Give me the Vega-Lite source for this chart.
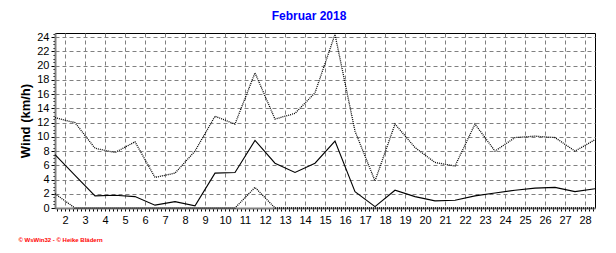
{
  "$schema": "https://vega.github.io/schema/vega-lite/v6.json",
  "autosize": "none",
  "width": 540,
  "height": 175,
  "padding": {"left": 55, "top": 33, "right": 21, "bottom": 45},
  "background": "white",
  "title": {
    "text": "Februar 2018",
    "color": "#0000ff",
    "font": "Liberation Sans",
    "fontSize": 12,
    "fontWeight": "bold",
    "anchor": "middle",
    "dx": -16,
    "offset": 5
  },
  "config": {
    "view": {"stroke": "black", "strokeWidth": 1},
    "axis": {
      "labelFont": "Liberation Sans",
      "labelFontSize": 11,
      "labelColor": "black",
      "titleFont": "Liberation Sans",
      "titleColor": "black",
      "domainColor": "#808080",
      "domainWidth": 2,
      "tickColor": "black",
      "gridColor": "#808080",
      "gridDash": [4, 3],
      "gridWidth": 1
    }
  },
  "data": {
    "values": [
      {"day": 1.5, "max": 12.7, "mean": 7.5, "min": 2.0},
      {"day": 2.5, "max": 12.0, "mean": 4.6, "min": 0},
      {"day": 3.5, "max": 8.4, "mean": 1.7, "min": 0},
      {"day": 4.5, "max": 7.8, "mean": 1.8, "min": 0},
      {"day": 5.5, "max": 9.3, "mean": 1.6, "min": 0},
      {"day": 6.5, "max": 4.3, "mean": 0.4, "min": 0},
      {"day": 7.5, "max": 4.9, "mean": 0.9, "min": 0},
      {"day": 8.5, "max": 8.0, "mean": 0.3, "min": 0},
      {"day": 9.5, "max": 12.9, "mean": 4.9, "min": 0},
      {"day": 10.5, "max": 11.8, "mean": 5.0, "min": 0},
      {"day": 11.5, "max": 19.0, "mean": 9.5, "min": 2.9},
      {"day": 12.5, "max": 12.5, "mean": 6.3, "min": 0},
      {"day": 13.5, "max": 13.3, "mean": 5.0, "min": 0},
      {"day": 14.5, "max": 16.2, "mean": 6.3, "min": 0},
      {"day": 15.5, "max": 24.4, "mean": 9.4, "min": 0},
      {"day": 16.5, "max": 10.8, "mean": 2.3, "min": 0},
      {"day": 17.5, "max": 3.8, "mean": 0.2, "min": 0},
      {"day": 18.5, "max": 11.8, "mean": 2.5, "min": 0},
      {"day": 19.5, "max": 8.5, "mean": 1.6, "min": 0},
      {"day": 20.5, "max": 6.4, "mean": 1.0, "min": 0},
      {"day": 21.5, "max": 5.9, "mean": 1.1, "min": 0},
      {"day": 22.5, "max": 11.8, "mean": 1.7, "min": 0},
      {"day": 23.5, "max": 8.0, "mean": 2.1, "min": 0},
      {"day": 24.5, "max": 9.9, "mean": 2.5, "min": 0},
      {"day": 25.5, "max": 10.1, "mean": 2.8, "min": 0},
      {"day": 26.5, "max": 9.9, "mean": 2.9, "min": 0},
      {"day": 27.5, "max": 8.0, "mean": 2.3, "min": 0},
      {"day": 28.5, "max": 9.6, "mean": 2.7, "min": 0}
    ]
  },
  "encoding": {
    "x": {
      "field": "day",
      "type": "quantitative",
      "scale": {"domain": [1.5, 28.5], "nice": false, "zero": false},
      "axis": {
        "orient": "bottom",
        "tickCount": 135,
        "labelExpr": "abs(datum.value - round(datum.value)) < 0.01 ? format(datum.value, 'd') : ''",
        "labelOverlap": false,
        "labelFlush": false,
        "labelPadding": 3,
        "tickSize": 3,
        "grid": true,
        "gridOpacity": {"condition": {"test": "abs(datum.value - round(datum.value)) < 0.01", "value": 1}, "value": 0},
        "title": "© WsWin32  -  © Heike Blädern",
        "titleColor": "#ff0000",
        "titleFontSize": 6,
        "titleFontWeight": "bold",
        "titleAnchor": "start",
        "titleAlign": "left",
        "titleBaseline": "middle",
        "titleX": -37,
        "titleY": 31
      }
    }
  },
  "layer": [
    {
      "mark": {"type": "line", "color": "black", "strokeWidth": 1.3, "strokeDash": [1, 1]},
      "encoding": {
        "y": {
          "field": "max",
          "type": "quantitative",
          "scale": {"domain": [0, 24.6], "nice": false},
          "axis": {
            "tickCount": 49,
            "labelExpr": "abs(datum.value / 2 - round(datum.value / 2)) < 0.01 ? format(datum.value, 'd') : ''",
            "labelOverlap": false,
            "labelFlush": false,
            "grid": true,
            "gridOpacity": {"condition": {"test": "abs(datum.value / 2 - round(datum.value / 2)) < 0.01", "value": 1}, "value": 0},
            "tickSize": {"condition": {"test": "abs(datum.value / 2 - round(datum.value / 2)) < 0.01", "value": 4}, "value": 2},
            "labelPadding": 2,
            "title": "Wind (km/h)",
            "titleFontSize": 13,
            "titleFontWeight": "bold",
            "titlePadding": 4
          }
        }
      }
    },
    {
      "mark": {"type": "line", "color": "black", "strokeWidth": 1.1},
      "encoding": {"y": {"field": "mean", "type": "quantitative"}}
    },
    {
      "mark": {"type": "line", "color": "black", "strokeWidth": 1.3, "strokeDash": [1, 1]},
      "encoding": {"y": {"field": "min", "type": "quantitative"}}
    }
  ]
}
